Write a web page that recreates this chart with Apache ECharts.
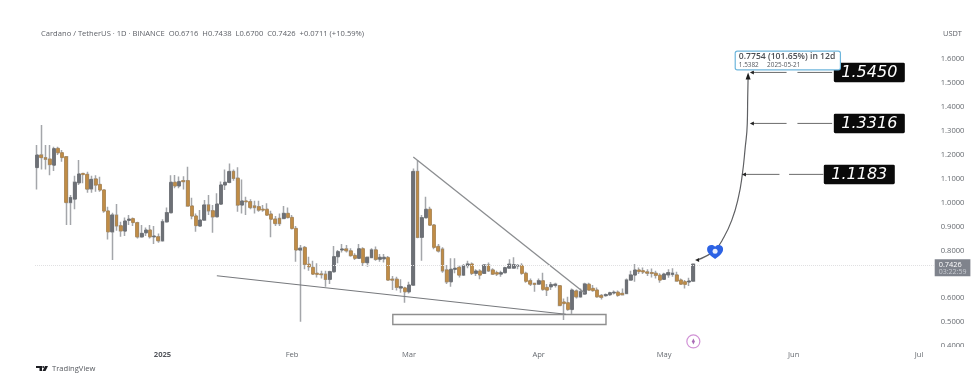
<!DOCTYPE html>
<html>
<head>
<meta charset="utf-8">
<style>
  html, body { margin: 0; padding: 0; background: #fff; }
  #chart { width: 980px; height: 390px; }
</style>
<script src="https://cdn.jsdelivr.net/npm/echarts@6/dist/echarts.min.js"></script>
</head>
<body>
<div id="chart"></div>
<script>
// daily candles, 2024-12-02 to 2025-05-08
const opens = [
  1.147,1.199,1.188,1.182,1.157,1.227,1.209,1.192,1.001,1.015,
  1.083,1.122,1.118,1.058,1.099,1.076,1.053,.965,.878,.947,
  .903,.881,.926,.933,.916,.857,.874,.885,.857,.857,
  .841,.920,.958,1.085,1.070,1.092,1.092,.986,.944,.902,
  .927,.990,.966,.941,.994,1.074,1.085,1.130,1.102,.990,
  1.007,1.004,.986,.983,.972,.972,.952,.931,.934,.934,
  .955,.938,.892,.802,.812,.742,.729,.704,.701,.700,
  .679,.711,.774,.802,.806,.798,.779,.767,.807,.749,
  .770,.802,.763,.765,.770,.679,.679,.643,.643,.627,
  .655,1.130,.855,.937,.972,.906,.816,.805,.718,.669,
  .721,.729,.697,.737,.743,.704,.714,.704,.739,.718,
  .707,.701,.707,.726,.726,.735,.737,.704,.673,.662,
  .659,.673,.645,.648,.654,.652,.584,.581,.553,.630,
  .606,.618,.658,.641,.634,.611,.611,.615,.622,.625,
  .620,.620,.676,.697,.718,.715,.710,.707,.704,.696,
  .679,.698,.700,.697,.676,.669,.668,.6716
];
const closes = [
  1.199,1.189,1.182,1.160,1.226,1.209,1.189,1.001,1.021,1.085,
  1.120,1.118,1.057,1.097,1.074,1.053,.965,.878,.948,.903,
  .882,.923,.931,.917,.857,.871,.885,.857,.860,.841,
  .920,.958,1.085,1.070,1.088,1.088,.986,.944,.904,.927,
  .990,.966,.941,.994,1.074,1.085,1.130,1.102,.990,1.007,
  1.004,.980,.980,.969,.969,.948,.931,.913,.913,.955,
  .938,.892,.802,.809,.742,.732,.701,.700,.699,.679,
  .711,.774,.795,.806,.799,.779,.767,.807,.749,.771,
  .802,.763,.771,.771,.676,.676,.646,.648,.627,.655,
  1.130,.855,.937,.972,.906,.813,.798,.715,.669,.721,
  .725,.697,.735,.743,.704,.714,.697,.739,.715,.701,
  .701,.707,.728,.742,.740,.737,.704,.671,.659,.658,
  .673,.637,.634,.657,.658,.570,.578,.553,.634,.606,
  .627,.659,.634,.632,.606,.604,.615,.623,.625,.612,
  .615,.676,.697,.718,.712,.710,.705,.704,.696,.676,
  .701,.707,.704,.672,.659,.658,.672,.7426
];
const lows = [
  1.055,1.139,1.139,1.115,1.132,1.199,1.171,.906,.906,.972,
  1.074,1.081,1.041,1.041,1.046,1.046,.958,.846,.760,.882,
  .857,.860,.906,.902,.850,.853,.860,.850,.827,.832,
  .836,.916,.955,1.060,1.060,1.055,.983,.930,.878,.900,
  .924,.948,.874,.938,.990,1.053,1.081,1.092,.962,.955,
  .948,.972,.955,.962,.962,.944,.855,.902,.902,.932,
  .934,.888,.753,.502,.721,.715,.697,.687,.683,.648,
  .659,.707,.746,.791,.791,.774,.760,.765,.735,.732,
  .767,.757,.753,.749,.673,.634,.632,.623,.581,.620,
  .651,.851,.757,.934,.902,.805,.791,.707,.660,.648,
  .704,.687,.693,.725,.697,.693,.679,.701,.710,.697,
  .693,.690,.704,.724,.724,.721,.698,.665,.651,.627,
  .657,.631,.609,.634,.645,.567,.509,.548,.534,.599,
  .602,.613,.632,.627,.602,.595,.606,.609,.616,.606,
  .611,.618,.673,.669,.701,.701,.693,.687,.683,.665,
  .676,.686,.690,.669,.655,.641,.651,.67
];
const highs = [
  1.241,1.325,1.241,1.241,1.234,1.234,1.220,1.193,1.032,1.113,
  1.178,1.125,1.129,1.113,1.115,1.108,1.055,.983,.958,.994,
  .920,.938,.948,.938,.920,.906,.896,.906,.902,.871,
  .930,.980,1.115,1.116,1.109,1.111,1.150,1.021,.955,.969,
  1.011,1.032,.990,1.039,1.088,1.139,1.164,1.139,1.148,1.097,
  1.025,1.014,1.008,1.008,.990,.997,.966,.944,.955,.986,
  .980,.948,.902,.823,.819,.774,.757,.746,.715,.715,
  .715,.819,.802,.827,.823,.809,.788,.827,.813,.774,
  .809,.816,.785,.785,.777,.693,.690,.679,.648,.669,
  1.143,1.178,.948,1.025,.983,.911,.827,.813,.739,.767,
  .767,.739,.743,.757,.749,.721,.721,.743,.749,.725,
  .715,.715,.732,.763,.771,.743,.746,.711,.683,.665,
  .683,.707,.659,.668,.665,.655,.599,.606,.641,.637,
  .641,.665,.665,.655,.645,.618,.620,.627,.632,.632,
  .641,.682,.715,.743,.729,.729,.721,.724,.715,.704,
  .707,.721,.725,.711,.683,.676,.686,.7438
];

const lastPrice = 0.7426;
const monthLabels = {
  '2025-01-01': '2025', '2025-02-01': 'Feb', '2025-03-01': 'Mar',
  '2025-04-01': 'Apr', '2025-05-01': 'May', '2025-06-01': 'Jun', '2025-07-01': 'Jul'
};

// drawings, x is the day number counted from the first candle
const supportLine = [[43, 0.694], [126.5, 0.533]];
const wedgeLine = [[90, 1.191], [131, 0.622]];
const boxLow = [85.1, 0.490];
const boxHigh = [136.1, 0.532];
const projection = [
  [157.9, 0.760], [159.8, 0.774], [162.2, 0.802], [164.2, 0.852], [166.2, 0.927],
  [167.75, 1.0195], [168.7, 1.116], [169.4, 1.229], [169.9, 1.3305], [170, 1.438], [170.1, 1.527]
];
const targets = [1.5450, 1.3316, 1.1183];
const targetStart = [171, 171, 169.1];
const gapStart = [179.3, 179.3, 177.6];
const gapEnd = [181.9, 181.9, 179.9];
const targetEnd = [190.2, 190.2, 188.1];
const targetLabelX = [199.1, 199.1, 196.7];

const dayCount = 215;
const days = [];
for (let i = 0; i < dayCount; i++) {
  days.push(new Date(Date.UTC(2024, 11, 2 + i)).toISOString().slice(0, 10));
}
const candles = opens.map((o, i) => [o, closes[i], lows[i], highs[i]]);
// second pass draws only the bodies, so the wicks can keep their own grey
const bodies = opens.map((o, i) => [o, closes[i], Math.min(o, closes[i]), Math.max(o, closes[i])]);

const grey = '#6d7076';
const tan = '#c08c46';
const textCol = '#666a70';
const font = '"Open Sans", sans-serif';
const tagShape = 'path://M2 0H98Q100 0 100 2V26Q100 28 98 28H2Q0 28 0 26V2Q0 0 2 0Z';

let chart = echarts.init(document.getElementById('chart'));

const targetSegments = targets.map((t, i) => ({
  type: 'line', xAxisIndex: 1, symbol: 'none', silent: true, z: 4,
  lineStyle: {color: '#6b6b6b', width: 1},
  connectNulls: false,
  data: [[targetStart[i], t], [gapStart[i], t], [gapStart[i], null], [gapEnd[i], null], [gapEnd[i], t], [targetEnd[i], t]]
}));

chart.setOption({
  animation: false,
  backgroundColor: '#fff',
  title: [
    {
      text: 'Cardano / TetherUS · 1D · BINANCE  O0.6716  H0.7438  L0.6700  C0.7426  +0.0711 (+10.59%)',
      left: 36, top: 25,
      textStyle: {fontFamily: font, fontSize: 7.6, fontWeight: 500, color: '#5c5f66'}
    },
    {
      text: 'USDT', left: 938, top: 25,
      textStyle: {fontFamily: font, fontSize: 7.4, fontWeight: 500, color: '#5c5f66'}
    },
    {
      text: 'TradingView', left: 47, top: 360,
      textStyle: {fontFamily: font, fontSize: 7.6, fontWeight: 400, color: '#55585e'}
    }
  ],
  grid: {left: 35, right: 46.3, top: 35.4, bottom: 44},
  xAxis: [
    {
      type: 'category',
      data: days,
      axisLine: {show: false},
      axisTick: {show: false},
      splitLine: {show: false},
      axisLabel: {
        interval: (i, v) => v in monthLabels,
        formatter: v => v === '2025-01-01' ? '{y|2025}' : (monthLabels[v] || ''),
        margin: 5,
        fontFamily: font, fontSize: 7.6, color: textCol,
        rich: {y: {fontFamily: font, fontSize: 7.6, fontWeight: 700, color: '#55585e'}}
      }
    },
    {type: 'value', show: false, min: -0.5, max: dayCount - 0.5}
  ],
  yAxis: {
    type: 'value',
    position: 'right',
    min: 0.4,
    max: 1.7,
    interval: 0.1,
    axisLine: {show: false},
    axisTick: {show: false},
    splitLine: {show: false},
    axisLabel: {
      showMaxLabel: false,
      margin: 7,
      fontFamily: font, fontSize: 7.6, color: textCol,
      formatter: v => v.toFixed(4)
    }
  },
  series: [
    {
      type: 'candlestick',
      data: candles,
      barWidth: 2,
      z: 3,
      itemStyle: {color: '#a4a6aa', color0: '#a4a6aa', borderColor: '#a4a6aa', borderColor0: '#a4a6aa', borderWidth: 1.5},
      markLine: {
        silent: true,
        symbol: 'none',
        lineStyle: {color: '#e0e0e2', type: 'dotted', width: 1},
        label: {
          position: 'end',
          distance: 1,
          offset: [0, 3],
          formatter: '{p|0.7426}\n{t|03:22:59}',
          backgroundColor: '#7f838c',
          padding: [2, 4, 1, 4],
          rich: {
            p: {fontFamily: font, fontSize: 7.4, color: '#fff', lineHeight: 7},
            t: {fontFamily: font, fontSize: 7, color: '#c9ccd2', lineHeight: 7}
          }
        },
        data: [{yAxis: lastPrice}]
      }
    },
    {
      type: 'candlestick',
      data: bodies,
      barWidth: 3.4,
      z: 3,
      itemStyle: {color: grey, color0: tan, borderColor: '#66696e', borderColor0: '#a8834f', borderWidth: 0.8}
    },
    {
      type: 'line', xAxisIndex: 1, symbol: 'none', silent: true, z: 4,
      lineStyle: {color: '#77797d', width: 1.1},
      data: supportLine
    },
    {
      type: 'line', xAxisIndex: 1, symbol: 'none', silent: true, z: 4,
      lineStyle: {color: '#8b8d90', width: 1.3},
      data: wedgeLine
    },
    {
      type: 'line', xAxisIndex: 1, symbol: 'none', silent: true, z: 2,
      data: [],
      markArea: {
        silent: true,
        itemStyle: {color: 'rgba(255,255,255,0)', borderColor: '#8e8e8e', borderWidth: 1.4},
        data: [[{coord: boxLow}, {coord: boxHigh}]]
      }
    },
    {
      type: 'line', xAxisIndex: 1, symbol: 'none', silent: true, z: 4, smooth: 0.5,
      lineStyle: {color: '#5f6063', width: 1.2},
      data: projection
    },
    ...targetSegments,
    // line ends
    {
      type: 'scatter', xAxisIndex: 1, silent: true, z: 5,
      symbol: 'triangle', symbolSize: 4, symbolRotate: 90,
      itemStyle: {color: '#222', opacity: 1},
      data: [[157.9, 0.760], ...targets.map((t, i) => [targetStart[i], t])]
    },
    {
      type: 'scatter', xAxisIndex: 1, silent: true, z: 6,
      symbol: 'triangle', symbolSize: [5, 7],
      itemStyle: {color: '#1c1c1c', opacity: 1},
      data: [[170.1, 1.530]]
    },
    // projection note, the label draws its own box
    {
      type: 'scatter', xAxisIndex: 1, silent: true, z: 7,
      symbolSize: 1,
      itemStyle: {color: 'rgba(255,255,255,0)', opacity: 1},
      label: {
        show: true, position: 'inside',
        formatter: '{a|0.7754 (101.65%) in 12d}\n{b|1.5382     2025-05-21}',
        backgroundColor: '#fff',
        borderColor: '#6eb6dc',
        borderWidth: 1.2,
        borderRadius: 1.5,
        padding: [1, 3, 1, 3],
        rich: {
          a: {fontFamily: font, fontSize: 8.6, fontWeight: 600, color: '#4a4d52', lineHeight: 8.5, align: 'left', width: 98},
          b: {fontFamily: font, fontSize: 6.4, color: '#55585e', lineHeight: 7, align: 'left', width: 98}
        }
      },
      data: [[179.6, 1.595]]
    },
    // target tags
    {
      type: 'scatter', xAxisIndex: 1, silent: true, z: 6,
      symbol: tagShape, symbolSize: [71, 19.5],
      itemStyle: {color: '#0a0a0a', opacity: 1},
      label: {
        show: true, position: 'inside',
        formatter: p => p.value[1].toFixed(4),
        fontFamily: '"DejaVu Sans", sans-serif', fontSize: 16, fontStyle: 'italic', color: '#fff'
      },
      data: targets.map((t, i) => [targetLabelX[i], t])
    },
    // blue marker
    {
      type: 'scatter', xAxisIndex: 1, silent: true, z: 6,
      symbol: 'path://M12 22C4 16 1 12 1 7C1 3 4 1 7 1C9 1 11 2 12 3.5C13 2 15 1 17 1C20 1 23 3 23 7C23 12 20 16 12 22Z',
      symbolSize: [16, 14],
      itemStyle: {color: '#2c62e4', opacity: 1},
      data: [[162.2, 0.7935]]
    },
    {
      type: 'scatter', xAxisIndex: 1, silent: true, z: 7,
      symbol: 'circle', symbolSize: 5,
      itemStyle: {color: '#e8eefc', opacity: 1},
      data: [[162.2, 0.797]]
    },
    // flag under the last candle
    {
      type: 'scatter', xAxisIndex: 1, silent: true, z: 6,
      symbol: 'circle', symbolSize: 13,
      itemStyle: {color: '#fff', borderColor: '#d192d6', borderWidth: 1.2, opacity: 1},
      data: [[157, 0.419]]
    },
    {
      type: 'scatter', xAxisIndex: 1, silent: true, z: 7,
      symbol: 'diamond', symbolSize: [3, 6],
      itemStyle: {color: '#a96bb5', opacity: 1},
      data: [[157, 0.419]]
    }
  ],
  graphic: [
    // the bottom of the lowest price label is cut off by the time scale
    {type: 'rect', z: 50, shape: {x: 935, y: 347, width: 45, height: 8}, style: {fill: '#fff'}},
    // TradingView logo
    {type: 'polygon', z: 50, shape: {points: [[36, 366], [42, 366], [42, 371], [39.5, 371], [39.5, 368], [36, 368]]}, style: {fill: '#1c1d22'}},
    {type: 'circle', z: 50, shape: {cx: 43.2, cy: 367, r: 1}, style: {fill: '#1c1d22'}},
    {type: 'polygon', z: 50, shape: {points: [[45, 366], [48, 366], [45.5, 371], [42.5, 371]]}, style: {fill: '#1c1d22'}}
  ]
});
</script>
</body>
</html>
